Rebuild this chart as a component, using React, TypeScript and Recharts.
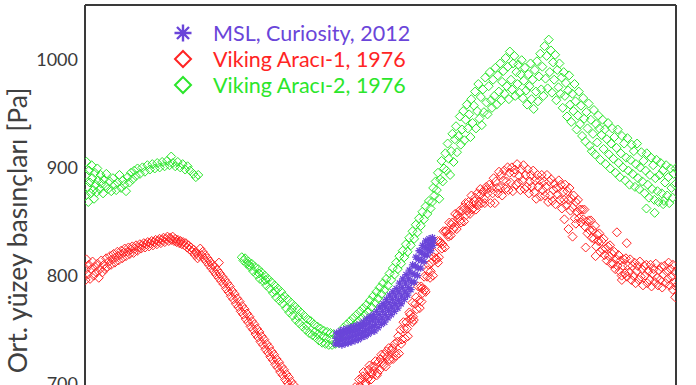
import React from "react";
import { ScatterChart, Scatter, XAxis, YAxis, Legend } from "recharts";

// Mars surface pressure vs. solar longitude (Ls).
type Pt = [number, number]; // [Ls (deg), pressure (Pa)]

const MSL_COLOR = "#6a45d9";
const VL1_COLOR = "#ff2424";
const VL2_COLOR = "#2be62b";
const AXIS_COLOR = "#3a3a3a";

const seriesNames = ["MSL, Curiosity, 2012", "Viking Aracı-1, 1976", "Viking Aracı-2, 1976"];
const yTitle = "Ort. yüzey basınçları [Pa]";

const yMajorTicks = [700, 800, 900, 1000];
const yMinorTicks = [
  650, 660, 670, 680, 690, 700, 710, 720, 730, 740, 750, 760, 770, 780, 790, 800, 810, 820, 830, 840,
  850, 860, 870, 880, 890, 900, 910, 920, 930, 940, 950, 960, 970, 980, 990, 1000, 1010, 1020, 1030,
  1040, 1050,
];
const xMajorTicks = [0, 60, 120, 180, 240, 300, 360];
const xMinorTicks = [
  0, 10, 20, 30, 40, 50, 60, 70, 80, 90, 100, 110, 120, 130, 140, 150, 160, 170, 180, 190, 200, 210,
  220, 230, 240, 250, 260, 270, 280, 290, 300, 310, 320, 330, 340, 350, 360,
];

const mslCuriosity: Pt[] = [
  [152.5, 737], [152.9, 742], [153.3, 747], [154.5, 737], [154.9, 741], [155.2, 745], [155.6, 749],
  [156.5, 736], [156.9, 741], [157.2, 746], [157.6, 750], [158.5, 737], [158.9, 742], [159.2, 747],
  [159.6, 751], [160.5, 738], [160.9, 743], [161.2, 748], [161.6, 752], [162.5, 739], [162.9, 744],
  [163.2, 749], [163.6, 753], [164.5, 740], [164.9, 745], [165.2, 750], [165.6, 754], [166.5, 741],
  [166.9, 746], [167.2, 751], [167.6, 755], [168.5, 743], [168.9, 748], [169.2, 753], [169.6, 757],
  [170.5, 744], [170.9, 749], [171.2, 755], [171.6, 760], [172.5, 746], [172.9, 751], [173.2, 757],
  [173.6, 762], [174.5, 748], [174.9, 753], [175.2, 759], [175.6, 764], [176.5, 749], [176.9, 755],
  [177.2, 761], [177.6, 767], [178.5, 752], [178.9, 758], [179.2, 764], [179.6, 771], [180.5, 755],
  [180.9, 761], [181.2, 767], [181.6, 774], [182.5, 757], [182.9, 764], [183.2, 771], [183.6, 778],
  [184.5, 761], [184.9, 768], [185.2, 775], [185.6, 782], [186.5, 764], [186.9, 771], [187.2, 778],
  [187.6, 785], [188.5, 767], [188.9, 774], [189.2, 781], [189.6, 788], [190.5, 770], [190.9, 777],
  [191.2, 785], [191.6, 793], [192.5, 774], [192.9, 781], [193.2, 789], [193.6, 797], [194.5, 778],
  [194.9, 785], [195.2, 793], [195.6, 801], [196.5, 782], [196.9, 789], [197.2, 797], [197.6, 805],
  [198.5, 787], [198.9, 794], [199.2, 802], [199.6, 810], [200.5, 794], [200.9, 801], [201.2, 809],
  [201.6, 817], [202.5, 800], [202.9, 807], [203.2, 815], [203.6, 823], [204.5, 807], [204.9, 814],
  [205.2, 821], [205.6, 828], [206.5, 813], [206.9, 819], [207.2, 826], [207.6, 832], [208.5, 819],
  [208.9, 824], [209.2, 829], [209.6, 834], [210.5, 823], [210.9, 827], [211.2, 831], [211.6, 835],
  [212, 828], [212.3, 833],
];

const viking1: Pt[] = [
  // northern spring / summer plateau
  [0.4, 796], [0.6, 806], [0.9, 815], [1.6, 801], [2.3, 810], [3.1, 797], [3.8, 806], [4.6, 813],
  [5.3, 800], [6.1, 808], [6.9, 803], [7.6, 811], [8.4, 798], [9.1, 806], [9.9, 814], [10.6, 803],
  [11.4, 810], [12.1, 806], [12.9, 816], [13.6, 808], [14.4, 813], [15.2, 818], [15.9, 810],
  [16.7, 815], [17.4, 820], [18.2, 812], [18.9, 817], [19.7, 822], [20.4, 814], [21.2, 819],
  [22, 823], [22.7, 816], [23.5, 821], [24.2, 825], [25, 818], [25.8, 822], [26.5, 826], [27.3, 820],
  [28, 824], [28.8, 827], [29.6, 821], [30.3, 825], [31.1, 828], [31.9, 823], [32.6, 826],
  [33.4, 829], [34.2, 825], [35, 828], [35.8, 830], [36.6, 826], [37.4, 829], [38.2, 831], [39, 827],
  [39.8, 830], [40.6, 832], [41.4, 828], [42.2, 831], [43, 833], [43.8, 829], [44.6, 832],
  [45.4, 834], [46.2, 830], [47, 833], [47.8, 835], [48.6, 831], [49.4, 834], [50.2, 836], [51, 832],
  [51.8, 835], [52.6, 833], [53.4, 836], [54.2, 832], [55, 834], [55.8, 831], [56.6, 833],
  [57.4, 830], [58.2, 832], [59, 829], [59.8, 831], [60.6, 828], [61.4, 830], [62.2, 826], [63, 828],
  [63.8, 824], [64.6, 826], [65.4, 822], [66.2, 824], [67, 819], [67.8, 821], [68.6, 816],
  [69.4, 818],
  // decline to the winter minimum
  [70.2, 825], [70.9, 819], [71.7, 822], [72.4, 816], [73.2, 819], [73.9, 813], [74.7, 816],
  [75.4, 810], [76.2, 813], [76.9, 807], [77.7, 810], [78.4, 804], [79.2, 808], [79.9, 801],
  [80.7, 805], [81.4, 798], [81.6, 812], [82.2, 802], [82.9, 795], [83.7, 799], [84.4, 792],
  [85.2, 796], [85.9, 788], [86.7, 793], [87.4, 785], [88.2, 790], [88.9, 781], [89.7, 786],
  [90.4, 778], [91.2, 783], [91.9, 774], [92.7, 779], [93.4, 771], [94.2, 776], [94.9, 767],
  [95.7, 772], [96.4, 764], [97.2, 769], [97.9, 760], [98.7, 765], [99.4, 757], [100.2, 762],
  [100.9, 753], [101.7, 758], [102.4, 750], [103.2, 755], [103.9, 746], [104.7, 751], [105.4, 743],
  [106.2, 748], [106.9, 739], [107.7, 744], [108.4, 736], [109.2, 741], [109.9, 732], [110.7, 737],
  [111.4, 729], [112.2, 734], [112.9, 725], [113.7, 730], [114.4, 722], [115.2, 727], [115.9, 718],
  [116.7, 723], [117.4, 715], [118.2, 720], [118.9, 711], [119.7, 716], [120.4, 708], [121.2, 713],
  [121.9, 704], [122.7, 709], [123.4, 701], [124.2, 706], [124.9, 697], [125.7, 702], [126.4, 694],
  [127.2, 699], [128, 691], [129, 695], [130, 688], [132, 690], [134, 684], [136, 686], [138, 681],
  [141, 683], [144, 680], [147, 683], [150, 682], [153, 686], [156, 688], [159, 692],
  // recovery
  [160, 686], [161.5, 692], [163, 689], [164.5, 697], [166, 694], [167, 704], [167.4, 698],
  [167.9, 697], [168.8, 704], [169.2, 707], [169.7, 711], [170.6, 699], [171, 701], [171.5, 707],
  [172.4, 705], [172.8, 713], [173.3, 717], [174.2, 704], [174.6, 709], [175.1, 716], [176, 712],
  [176.4, 716], [176.9, 721], [177.8, 708], [178.2, 710], [178.7, 720], [179.6, 713], [180, 723],
  [180.5, 727], [181.4, 719], [181.8, 717], [182.3, 727], [183.2, 716], [183.6, 730], [184.1, 725],
  [185, 733], [185.4, 723], [185.9, 722], [186.8, 731], [187.2, 733], [187.7, 723], [188.6, 737],
  [189, 729], [189.5, 726], [190.4, 739], [190.8, 744], [191.3, 728], [192.2, 750], [192.6, 737],
  [193.1, 741], [194, 757], [194.4, 751], [194.9, 742], [195.8, 757], [196.2, 751], [196.7, 744],
  [197.6, 766], [198, 764], [198.5, 760], [199.4, 775], [199.5, 757], [199.8, 762], [200.3, 759],
  [201.2, 774], [201.6, 780], [202.1, 769], [203, 790], [203.4, 777], [203.9, 770], [204.8, 790],
  [205, 776], [205.2, 788], [205.7, 784], [206.6, 799], [207, 787], [207.5, 785], [208.4, 799],
  [208.8, 805], [209.3, 810], [210.2, 798], [210.6, 804], [211.1, 812], [212, 800], [212.4, 817],
  [212.9, 821], [213.8, 816], [214.2, 815], [214.7, 832], [215, 812], [215.6, 817], [216, 832],
  [216.5, 830], [217.4, 825], [217.8, 829], [218.3, 841], [219.2, 826], [219.6, 841], [220.1, 841],
  [221, 838], [221.4, 836], [221.9, 849], [222.8, 837], [223.2, 847], [223.7, 849], [224.6, 843],
  [225, 845], [225.5, 857], [226.4, 843], [226.8, 856], [227.3, 853], [228.2, 860], [228.6, 851],
  [229.1, 849], [230, 860], [230.4, 863], [230.9, 850], [231.8, 867], [232.2, 856], [232.7, 860],
  [233.6, 868], [234, 865], [234.5, 857], [235.4, 874], [235.8, 861], [236.3, 862], [237.2, 869],
  [237.6, 872], [238.1, 861], [239, 876], [239.4, 865], [239.9, 868], [240.8, 880], [241.2, 875],
  [241.7, 867], [242.6, 878], [243, 871], [243.5, 867], [244.4, 882], [244.8, 880], [245.3, 876],
  [246.2, 884],
  // southern summer maximum and decline
  [247, 867], [247.6, 881], [248.3, 876], [248.9, 890], [249.6, 867], [250.2, 887], [250.9, 881],
  [251.5, 876], [252.2, 896], [252.8, 881], [253.5, 893], [254.1, 874], [254.8, 888], [255.4, 897],
  [256.1, 880], [256.7, 887], [257.4, 900], [258, 879], [258.7, 895], [259.3, 886], [260, 900],
  [260.6, 878], [261.3, 895], [261.9, 898], [262.6, 884], [263.2, 903], [263.9, 886], [264.5, 892],
  [265.2, 879], [265.8, 898], [266.5, 888], [267.1, 902], [267.8, 880], [268.4, 893], [269.1, 882],
  [269.7, 898], [270.4, 876], [271, 887], [271.7, 893], [272.3, 882], [273, 897], [273.6, 877],
  [274.3, 888], [274.9, 871], [275.6, 893], [276.2, 882], [276.9, 888], [277.5, 873], [278.2, 893],
  [278.8, 879], [279.5, 887], [280.1, 874], [280.8, 882], [281.4, 893], [282.1, 868], [282.7, 887],
  [283.4, 874], [284, 889], [284.7, 869], [285.3, 879], [286, 885], [286.6, 866], [287.3, 881],
  [287.9, 875], [288.6, 888], [289.2, 870], [289.9, 884], [290.5, 862], [291.2, 877], [291.8, 870],
  [292, 852], [292.5, 884], [293.1, 865], [293.8, 878], [294.4, 870], [294.5, 843], [295.1, 881],
  [295.7, 860], [296.4, 871], [297, 863], [297, 836], [297.7, 874], [298.3, 853], [299, 868],
  [299, 848], [299.6, 859], [300.3, 870], [300.9, 853], [301.6, 861], [302.2, 849], [302.9, 861],
  [303.5, 852], [304.2, 861], [304.8, 845], [305, 826], [305.5, 850], [306.1, 839], [306.8, 851],
  [307.4, 842], [308.1, 851], [308.7, 835], [309.4, 842], [310, 834], [310.7, 846], [311, 818],
  [311.3, 827], [312, 838], [312.6, 832], [313.3, 839], [313.9, 822], [314.6, 832], [315.2, 824],
  [315.9, 834], [316.5, 819], [317.2, 825], [317.8, 814], [318.5, 827], [319.1, 818], [319.8, 828],
  [320.4, 811], [321.1, 820], [321.7, 811], [322.4, 822], [323, 806], [323.7, 815], [324, 840],
  [324.3, 809], [325, 819], [325.6, 804], [326.3, 814], [326.9, 800], [327, 796], [327.6, 809],
  [328.2, 815], [328.9, 802], [329.5, 816], [330, 830], [330.2, 799], [330.8, 809], [331.5, 803],
  [332.1, 815], [332.8, 796], [333.4, 809], [334.1, 800], [334.7, 812], [335.4, 793], [336, 804],
  [336.7, 809], [337.3, 796], [338, 813], [338.6, 799], [339.3, 806], [339.9, 791], [340.6, 809],
  [341.2, 800], [341.9, 810], [342.5, 793], [343.2, 804], [343.8, 796], [344.5, 810], [345.1, 790],
  [345.8, 802], [346.4, 806], [347.1, 794], [347.7, 811], [348.4, 798], [349, 791], [349.7, 805],
  [350.3, 796], [351, 808], [351.6, 789], [352.3, 801], [352.9, 809], [353.6, 793], [354.2, 804],
  [354.9, 797], [355.5, 812], [356.2, 791], [356.8, 806], [357.5, 799], [358, 787], [358.1, 810],
  [358.8, 794], [359.4, 803], [359.5, 780], [359.9, 790],
];

const viking2: Pt[] = [
  // early plateau
  [0.5, 874], [0.7, 893], [1.0, 905], [1.5, 882], [2.0, 868], [2.5, 897], [3.0, 886], [3.5, 876],
  [4.0, 902], [4.5, 890], [5.0, 879], [5.5, 871], [6.0, 895], [6.5, 884], [7.0, 877], [7.5, 899],
  [8.0, 888], [9.0, 880], [9.5, 893], [10.0, 885], [11.0, 876], [11.5, 889], [12.5, 883],
  [13.0, 894], [14.0, 880], [15.0, 887], [16.0, 878], [17.0, 890], [18.0, 884], [19.0, 879],
  [20.0, 886], [21.0, 893], [22.0, 881], [23.0, 888], [24.0, 884], [25.0, 878], [26.0, 891],
  [27.0, 886], [28.0, 895], [29.0, 889], [30.0, 897], [31.0, 892], [32.0, 899], [33.5, 894],
  [35.0, 900], [36.5, 896], [38.0, 902], [39.5, 898], [41.0, 903], [42.5, 899], [44.0, 904],
  [45.5, 900], [47.0, 905], [48.5, 901], [50.0, 906], [51.5, 902], [52.5, 910], [53.5, 904],
  [55.0, 901], [56.5, 905], [58.0, 900], [59.5, 903], [61.0, 898], [62.5, 901], [64.0, 897],
  [66.0, 894], [67.5, 891], [69.0, 893],
  // winter decline
  [95.5, 817], [96.5, 814], [97.5, 816], [98.5, 811], [99.5, 813], [100, 810], [100.5, 808],
  [101.5, 811], [102.5, 804], [103.5, 808], [104.5, 801], [105.5, 806], [106, 802], [106.5, 797],
  [107.5, 803], [108.5, 795], [109.5, 800], [110, 796], [110.5, 791], [111.5, 797], [112.5, 788],
  [113.5, 794], [114.5, 784], [115.5, 791], [116, 786], [116.5, 780], [117.5, 788], [118.5, 777],
  [119.5, 785], [120, 779], [120.5, 774], [121.5, 781], [122.5, 770], [123.5, 778], [124.5, 766],
  [125.5, 775], [126, 769], [126.5, 763], [127.5, 772], [128.5, 759], [129.5, 769], [130, 762],
  [130.5, 756], [131.5, 766], [132.5, 753], [133.5, 763], [134.5, 750], [135, 754], [135.5, 760],
  [136.5, 747], [137.5, 758], [138.5, 745], [139.5, 755], [140, 748], [140.5, 743], [141.5, 753],
  [142, 746], [142.5, 740], [143.5, 751], [144.5, 738], [145, 744], [145.5, 749], [146.5, 737],
  [147, 742], [147.5, 748], [148.5, 736], [149.5, 747], [150, 741], [150.5, 736], [151.5, 746],
  [152.5, 737], [153.5, 745], [154, 742], [154.5, 738], [155.5, 746], [156.5, 740],
  // recovery
  [157.5, 752], [158.5, 746], [159.5, 755], [160.5, 749], [161.5, 758], [162.5, 752], [163.5, 761],
  [164.5, 755], [165.5, 764], [166.5, 758], [167.5, 767], [168.5, 761], [169.5, 770], [170.5, 764],
  [171.5, 773], [172.5, 767], [173.5, 777], [174.5, 771], [175.5, 781], [176.5, 775], [177.5, 785],
  [178.5, 779], [179.5, 789], [180.5, 783], [181.5, 793], [182.5, 787], [183.5, 797], [184.5, 791],
  [185.5, 802], [186.5, 796], [187.5, 807], [188.5, 801], [189.5, 812], [190.5, 806], [191.5, 818],
  [192.5, 811], [193.5, 823], [194.5, 817], [195.5, 829], [196.5, 822], [197.5, 835], [198.5, 828],
  [199.5, 841], [200.5, 834], [201.5, 847], [202.5, 840], [203.5, 853], [204.5, 846], [205.5, 859],
  [206.5, 852], [207.5, 864], [208.5, 857], [209.5, 869], [210.5, 862],
  // southern summer double peak
  [211.4, 868], [212.1, 881], [212.9, 874], [213.6, 887], [214.3, 879], [215.0, 895], [215.8, 871],
  [216.4, 889], [217.2, 906], [217.9, 887], [218.7, 899], [219.5, 913], [220.2, 897], [220.9, 922],
  [221.6, 908], [222.4, 893], [223.1, 915], [223.8, 931], [224.5, 905], [225.3, 926], [226.0, 938],
  [226.6, 914], [227.4, 929], [228.3, 947], [228.9, 921], [229.7, 935], [230.4, 952], [231.1, 925],
  [231.9, 944], [232.6, 958], [233.2, 936], [234.0, 949], [234.8, 928], [235.3, 963], [236.1, 941],
  [236.9, 957], [237.6, 970], [238.2, 936], [238.9, 952], [239.6, 977], [240.3, 945], [241.1, 965],
  [241.7, 939], [242.4, 972], [243.0, 951], [243.8, 983], [244.5, 960], [245.2, 949], [245.9, 975],
  [246.6, 988], [247.3, 962], [247.9, 955], [248.6, 981], [249.3, 966], [250.0, 992], [250.7, 958],
  [251.4, 985], [252.1, 970], [252.9, 996], [253.5, 962], [254.1, 979], [254.8, 989], [255.5, 968],
  [256.2, 1001], [256.9, 975], [257.5, 993], [258.2, 963], [258.8, 1007], [259.5, 981],
  [260.1, 972], [260.8, 996], [261.5, 1003], [262.1, 966], [262.8, 988], [263.4, 977], [264.0, 995],
  [264.7, 969], [265.4, 986], [266.0, 999], [266.7, 964], [267.3, 980], [268.0, 992], [268.7, 971],
  [269.3, 958], [270.0, 986], [270.7, 975], [271.4, 996], [272.0, 963], [272.7, 981], [273.3, 954],
  [274.0, 990], [274.7, 970], [275.3, 998], [275.9, 961], [276.6, 984], [277.3, 1005], [277.9, 972],
  [278.6, 993], [279.2, 966], [279.9, 1012], [280.5, 982], [281.2, 1003], [281.8, 973],
  [282.5, 1018], [283.1, 988], [283.8, 1008], [284.4, 969], [285.1, 997], [285.8, 981],
  [286.4, 1004], [287.1, 962], [287.7, 990], [288.4, 974], [289.0, 996], [289.6, 968], [290.3, 983],
  [291.0, 955], [291.6, 988], [292.3, 966], [292.9, 978], [293.6, 947], [294.3, 971], [294.9, 985],
  [295.5, 958], [296.2, 942], [296.9, 968], [297.5, 952], [298.2, 977], [298.8, 961], [299.5, 935],
  [300.2, 948], [300.8, 970], [301.5, 940], [302.1, 957], [302.8, 929], [303.5, 964], [304.1, 945],
  [304.8, 924], [305.4, 951], [306.1, 936], [306.8, 959], [307.4, 920], [308.1, 944], [308.7, 915],
  [309.4, 931], [310.0, 953], [310.7, 912], [311.3, 940], [312.0, 923], [312.7, 948], [313.3, 936],
  [313.9, 907], [314.6, 930], [315.3, 944], [315.9, 917], [316.6, 935], [317.2, 903], [317.9, 926],
  [318.6, 941], [319.2, 912], [319.9, 899], [320.5, 922], [321.2, 936], [321.8, 908], [322.5, 928],
  [323.2, 895], [323.8, 918], [324.5, 935], [325.1, 904], [325.8, 891], [326.4, 913], [327.1, 929],
  [327.7, 900], [328.4, 922], [329.1, 888], [329.7, 909], [330.4, 927], [331.0, 897], [331.7, 884],
  [332.3, 907], [333.0, 921], [333.6, 894], [334.3, 915], [335.0, 882], [335.6, 903], [336.3, 922],
  [336.9, 890], [337.6, 880], [338.2, 900], [338.9, 914], [339.5, 887], [340.2, 906], [340.9, 876],
  [341.5, 897], [342.0, 862], [342.2, 913], [342.8, 884], [343.5, 872], [344.1, 893], [344.8, 909],
  [345.4, 880], [346.1, 902], [346.8, 870], [347.0, 858], [347.4, 890], [348.1, 907], [348.7, 878],
  [349.4, 868], [350.0, 893], [350.7, 904], [351.3, 876], [352.0, 897], [352.2, 866], [352.7, 869],
  [353.3, 886], [354.0, 902], [354.6, 874], [355.3, 891], [355.9, 867], [356.6, 899], [357.2, 881],
  [357.9, 872], [358.5, 894], [359.2, 884], [359.8, 899],
];

const toRows = (pts: Pt[]) => pts.map(([ls, p]) => ({ ls, p }));

const diamondShape = (color: string) => (props: any) => {
  const { cx, cy } = props;
  if (cx == null || cy == null) return <g />;
  const r = 4.5;
  return (
    <path
      d={`M${cx} ${cy - r}L${cx + r} ${cy}L${cx} ${cy + r}L${cx - r} ${cy}Z`}
      fill="none"
      stroke={color}
      strokeWidth={1}
    />
  );
};

function asteriskPath(cx: number, cy: number, r: number) {
  const d = r * Math.SQRT1_2;
  return `M${cx - r} ${cy}H${cx + r}M${cx} ${cy - r}V${cy + r}M${cx - d} ${cy - d}L${cx + d} ${cy + d}M${cx - d} ${cy + d}L${cx + d} ${cy - d}`;
}

const asteriskShape = (color: string) => (props: any) => {
  const { cx, cy } = props;
  if (cx == null || cy == null) return <g />;
  return <path d={asteriskPath(cx, cy, 3.8)} stroke={color} strokeWidth={1.3} fill="none" />;
};

const renderTitle = (props: any) => {
  const vb = props.viewBox || { y: 0, height: 0 };
  const cx = 17;
  const cy = vb.y + vb.height / 2 + 9;
  return (
    <text
      x={cx}
      y={cy}
      transform={`rotate(-90 ${cx} ${cy})`}
      textAnchor="middle"
      dominantBaseline="central"
      fill="#404040"
      style={{ fontFamily: "Lato", fontSize: 26.5 }}
    >
      {yTitle}
    </text>
  );
};

function LegendBox() {
  const colors = [MSL_COLOR, VL1_COLOR, VL2_COLOR];
  return (
    <div style={{ fontFamily: "Lato", fontSize: 21.5 }}>
      {seriesNames.map((name, i) => (
        <div key={name} style={{ display: "flex", alignItems: "center", height: 26 }}>
          <svg width={22} height={22} style={{ flex: "none" }}>
            {i === 0 ? (
              <path d={asteriskPath(11, 11, 8.5)} stroke={colors[i]} strokeWidth={2.4} fill="none" />
            ) : (
              <path d="M11 3L19 11L11 19L3 11Z" stroke={colors[i]} strokeWidth={2} fill="none" />
            )}
          </svg>
          <span style={{ marginLeft: 19, color: colors[i], whiteSpace: "nowrap" }}>{name}</span>
        </div>
      ))}
    </div>
  );
}

const tickLabelStyle = { fontFamily: "Lato", fontSize: 18, fill: "#3a3a3a" };
const axisLine = { stroke: AXIS_COLOR, strokeWidth: 2 };
const tickLine = { stroke: AXIS_COLOR, strokeWidth: 1.5 };

export default function App() {
  return (
    <div
      style={{
        position: "fixed",
        left: 0,
        top: 0,
        width: 696,
        height: 385,
        overflow: "hidden",
        background: "#fff",
      }}
    >
      <ScatterChart width={696} height={438} margin={{ top: 5, right: 20, bottom: 0, left: 0 }}>
        <XAxis
          xAxisId="tmaj"
          type="number"
          dataKey="ls"
          orientation="top"
          mirror
          domain={[0, 360]}
          ticks={xMajorTicks}
          allowDataOverflow
          tick={false}
          tickSize={9}
          axisLine={axisLine}
          tickLine={tickLine}
        />
        <XAxis
          xAxisId="tmin"
          type="number"
          dataKey="ls"
          orientation="top"
          mirror
          domain={[0, 360]}
          ticks={xMinorTicks}
          allowDataOverflow
          tick={false}
          tickSize={5}
          axisLine={false}
          tickLine={tickLine}
        />
        <YAxis
          yAxisId="lab"
          type="number"
          dataKey="p"
          orientation="left"
          width={85}
          domain={[650, 1050]}
          ticks={yMajorTicks}
          allowDataOverflow
          tick={tickLabelStyle}
          tickSize={0}
          tickMargin={7}
          axisLine={false}
          tickLine={false}
          label={renderTitle}
        />
        <YAxis
          yAxisId="lmaj"
          type="number"
          dataKey="p"
          orientation="left"
          mirror
          domain={[650, 1050]}
          ticks={yMajorTicks}
          allowDataOverflow
          tick={false}
          tickSize={9}
          axisLine={axisLine}
          tickLine={tickLine}
        />
        <YAxis
          yAxisId="lmin"
          type="number"
          dataKey="p"
          orientation="left"
          mirror
          domain={[650, 1050]}
          ticks={yMinorTicks}
          allowDataOverflow
          tick={false}
          tickSize={5}
          axisLine={false}
          tickLine={tickLine}
        />
        <YAxis
          yAxisId="rmaj"
          type="number"
          dataKey="p"
          orientation="right"
          mirror
          domain={[650, 1050]}
          ticks={yMajorTicks}
          allowDataOverflow
          tick={false}
          tickSize={9}
          axisLine={axisLine}
          tickLine={tickLine}
        />
        <YAxis
          yAxisId="rmin"
          type="number"
          dataKey="p"
          orientation="right"
          mirror
          domain={[650, 1050]}
          ticks={yMinorTicks}
          allowDataOverflow
          tick={false}
          tickSize={5}
          axisLine={false}
          tickLine={tickLine}
        />
        <Legend
          layout="vertical"
          align="center"
          verticalAlign="middle"
          wrapperStyle={{ left: 172, top: 20, width: 300 }}
          content={() => <LegendBox />}
        />
        <Scatter
          name={seriesNames[2]}
          data={toRows(viking2)}
          xAxisId="tmaj"
          yAxisId="lmaj"
          shape={diamondShape(VL2_COLOR)}
          isAnimationActive={false}
        />
        <Scatter
          name={seriesNames[1]}
          data={toRows(viking1)}
          xAxisId="tmaj"
          yAxisId="lmaj"
          shape={diamondShape(VL1_COLOR)}
          isAnimationActive={false}
        />
        <Scatter
          name={seriesNames[0]}
          data={toRows(mslCuriosity)}
          xAxisId="tmaj"
          yAxisId="lmaj"
          shape={asteriskShape(MSL_COLOR)}
          isAnimationActive={false}
        />
      </ScatterChart>
    </div>
  );
}
